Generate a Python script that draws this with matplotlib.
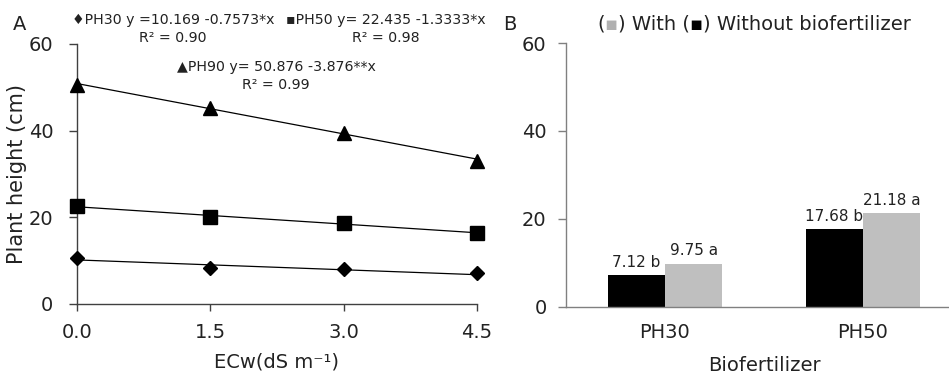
import matplotlib
matplotlib.use("Agg")
import matplotlib.pyplot as plt

# panel A data: plant height (cm) vs ECw
ecw = [0.0, 1.5, 3.0, 4.5]
ph30 = [10.6, 8.4, 8.0, 7.1]
ph50 = [22.6, 20.0, 18.8, 16.3]
ph90 = [50.5, 45.3, 39.4, 33.0]
# regression coefficients (intercept, slope) shown in the equations
fit30 = (10.169, -0.7573)
fit50 = (22.435, -1.3333)
fit90 = (50.876, -3.876)

# panel B data
groups = ["PH30", "PH50"]
without_bio = [7.12, 17.68]
with_bio = [9.75, 21.18]
without_lbl = ["7.12 b", "17.68 b"]
with_lbl = ["9.75 a", "21.18 a"]

plt.rcParams['font.family'] = ['DejaVu Sans']

fig = plt.figure(figsize=(9.49, 3.76), dpi=100)
axA = fig.add_axes([0.0811, 0.1915, 0.4215, 0.6915])
axB = fig.add_axes([0.5964, 0.1848, 0.4173, 0.7008])

dark = "#404040"
grey = "#808080"

# --- panel A
for ys, fit, mk, ms in [(ph30, fit30, 'D', 7), (ph50, fit50, 's', 9.5), (ph90, fit90, '^', 10.5)]:
    x0, x1 = ecw[0], ecw[-1]
    axA.plot([x0, x1], [fit[0] + fit[1]*x0, fit[0] + fit[1]*x1], color='black', lw=0.9, zorder=2)
    axA.plot(ecw, ys, linestyle='none', marker=mk, ms=ms, color='black', clip_on=False, zorder=3)

axA.set_xlim(0, 4.5)
axA.set_ylim(0, 60)
axA.set_xticks(ecw)
axA.set_xticklabels(["0.0", "1.5", "3.0", "4.5"])
axA.set_yticks([0, 20, 40, 60])
for s in ['top', 'right']:
    axA.spines[s].set_visible(False)
for s in ['left', 'bottom']:
    axA.spines[s].set_color(dark)
    axA.spines[s].set_linewidth(1.0)
axA.tick_params(axis='y', length=6, width=1.0, color=dark, labelsize=14, pad=11, labelcolor='#222222')
axA.tick_params(axis='x', length=5, width=1.0, color=dark, labelsize=14, pad=9, labelcolor='#222222')
axA.set_ylabel("Plant height (cm)", fontsize=15, color='#222222', labelpad=1)
axA.set_xlabel("ECw(dS m\u207b\u00b9)", fontsize=14, color='#222222', labelpad=7)

tk = dict(fontsize=10.2, ha='center', va='center', multialignment='center',
          color='#222222', linespacing=1.45)
fig.text(173/949, 1 - 29/376, "\u2666PH30 y =10.169 -0.7573*x\nR\u00b2 = 0.90", **tk)
fig.text(386/949, 1 - 29/376, "\u25aaPH50 y= 22.435 -1.3333*x\nR\u00b2 = 0.98", **tk)
fig.text(276/949, 1 - 76/376, "\u25b2PH90 y= 50.876 -3.876**x\nR\u00b2 = 0.99", **tk)
fig.text(20/949, 1 - 25/376, "A", fontsize=14, ha='center', va='center', color='#222222')

# --- panel B
w = 0.29
xs = list(range(len(groups)))
axB.bar([x - w/2 for x in xs], without_bio, width=w, color='black', zorder=2)
axB.bar([x + w/2 for x in xs], with_bio, width=w, color='#bfbfbf', zorder=2)
for x, v, t in zip(xs, without_bio, without_lbl):
    axB.text(x - w/2, v + 1.2, t, ha='center', va='bottom', fontsize=11, color='#222222')
for x, v, t in zip(xs, with_bio, with_lbl):
    axB.text(x + w/2, v + 1.2, t, ha='center', va='bottom', fontsize=11, color='#222222')

axB.set_xlim(-0.5, 1.5)
axB.set_ylim(0, 60)
axB.set_yticks([0, 20, 40, 60])
axB.set_xticks(xs)
axB.set_xticklabels(groups)
for s in ['top', 'right']:
    axB.spines[s].set_visible(False)
for s in ['left', 'bottom']:
    axB.spines[s].set_color(grey)
    axB.spines[s].set_linewidth(1.0)
axB.tick_params(axis='y', length=6, width=1.0, color=grey, labelsize=14, pad=8, labelcolor='#222222')
axB.tick_params(axis='x', length=0, labelsize=14, pad=12, labelcolor='#222222')
axB.set_xlabel("Biofertilizer", fontsize=14, color='#222222', labelpad=10)

fig.text(510/949, 1 - 25/376, "B", fontsize=14, ha='center', va='center', color='#222222')

# legend-like title built from chained text pieces
t1 = fig.text(597/949, 1 - 24/376, "(", fontsize=14, va='center', color='#222222')
t2 = axB.annotate("\u25aa", xy=(1, 0.5), xycoords=t1, va='center', ha='left', fontsize=14, color='#b0b0b0')
t3 = axB.annotate(") With (", xy=(1, 0.5), xycoords=t2, va='center', ha='left', fontsize=14, color='#222222')
t4 = axB.annotate("\u25aa", xy=(1, 0.5), xycoords=t3, va='center', ha='left', fontsize=14, color='black')
axB.annotate(") Without biofertilizer", xy=(1, 0.5), xycoords=t4, va='center', ha='left', fontsize=14, color='#222222')

fig.savefig("out.png", dpi=100)
